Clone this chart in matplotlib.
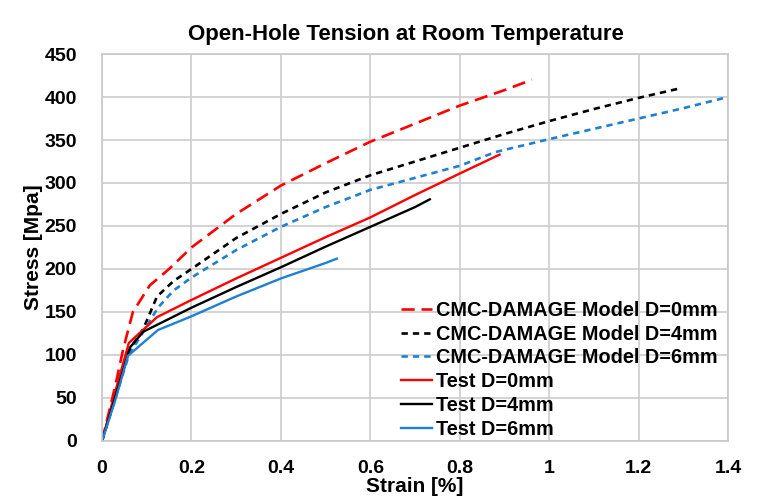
import matplotlib
matplotlib.use('Agg')
import matplotlib.pyplot as plt

plt.rcParams['font.family'] = ['Liberation Sans', 'DejaVu Sans']
plt.rcParams['font.weight'] = 'bold'

# model curves (strain %, stress MPa)
model_d0_x = [0, 0.03, 0.047, 0.069, 0.107, 0.15, 0.2, 0.3, 0.4, 0.5, 0.6, 0.7, 0.8, 0.9, 0.961]
model_d0_y = [0, 65, 106, 150, 181, 200, 225, 264, 297, 323, 348, 369, 390, 408, 420]

model_d4_x = [0, 0.03, 0.06, 0.092, 0.123, 0.16, 0.2, 0.3, 0.4, 0.5, 0.6, 0.7, 0.8, 0.9, 1.0, 1.1, 1.2, 1.292]
model_d4_y = [0, 52, 105, 130, 168, 186, 200, 236, 264, 289, 309, 325, 341, 357, 372, 386, 399, 410]

model_d6_x = [0, 0.03, 0.06, 0.09, 0.125, 0.16, 0.2, 0.3, 0.4, 0.5, 0.6, 0.7, 0.8, 0.88, 1.0, 1.1, 1.2, 1.3, 1.4]
model_d6_y = [0, 50, 100, 125, 155, 175, 190, 222, 249, 272, 292, 306, 320, 336, 351, 363, 375, 387, 400]

# test curves
test_d0_x = [0, 0.03, 0.06, 0.123, 0.2, 0.3, 0.4, 0.5, 0.6, 0.7, 0.8, 0.889]
test_d0_y = [0, 58, 114, 144, 164, 189, 213, 237, 260, 286, 311, 333]

test_d4_x = [0, 0.03, 0.063, 0.092, 0.2, 0.3, 0.4, 0.5, 0.6, 0.7, 0.733]
test_d4_y = [0, 52, 109, 127, 155, 179, 202, 226, 249, 272, 281]

test_d6_x = [0, 0.03, 0.058, 0.125, 0.2, 0.3, 0.4, 0.5, 0.525]
test_d6_y = [0, 48, 99, 129, 145, 168, 189, 207, 212]

BLUE = '#1F80D2'

fig = plt.figure(figsize=(7.63, 5.01), dpi=100)
ax = fig.add_axes([0.1337, 0.1198, 0.8205, 0.7724])

ax.plot(model_d0_x, model_d0_y, color='red', lw=1.9, dashes=(5, 2.6), label='CMC-DAMAGE Model D=0mm')
ax.plot(model_d4_x, model_d4_y, color='black', lw=1.9, dashes=(2.4, 1.9), label='CMC-DAMAGE Model D=4mm')
ax.plot(model_d6_x, model_d6_y, color=BLUE, lw=1.9, dashes=(2.4, 1.9), label='CMC-DAMAGE Model D=6mm')
ax.plot(test_d0_x, test_d0_y, color='red', lw=1.7, label='Test D=0mm')
ax.plot(test_d4_x, test_d4_y, color='black', lw=1.7, label='Test D=4mm')
ax.plot(test_d6_x, test_d6_y, color=BLUE, lw=1.7, label='Test D=6mm')

ax.set_xlim(0, 1.4)
ax.set_ylim(0, 450)
ax.set_xticks([0, 0.2, 0.4, 0.6, 0.8, 1.0, 1.2, 1.4])
ax.set_xticklabels(['0', '0.2', '0.4', '0.6', '0.8', '1', '1.2', '1.4'])
ax.set_yticks(range(0, 451, 50))
ax.tick_params(axis='x', labelsize=14, length=0, pad=14)
ax.tick_params(axis='y', labelsize=14, length=0, pad=18)
ax.grid(True, color='#D0D0D0', lw=1.3)
ax.set_axisbelow(True)
for s in ax.spines.values():
    s.set_color('#C8C8C8')
    s.set_linewidth(1.2)

ax.set_title('Open-Hole Tension at Room Temperature', fontsize=16, fontweight='bold',
             x=0.485, pad=10)
ax.set_xlabel('Strain [%]', fontsize=15, fontweight='bold', labelpad=0)
ax.set_ylabel('Stress [Mpa]', fontsize=15, fontweight='bold', labelpad=1)

ax.legend(loc='lower left', bbox_to_anchor=(0.455, -0.03), frameon=False, fontsize=14.3,
          handlelength=1.55, handletextpad=0.2, labelspacing=0.24, borderpad=0.2)

fig.savefig('out.png', dpi=100)
